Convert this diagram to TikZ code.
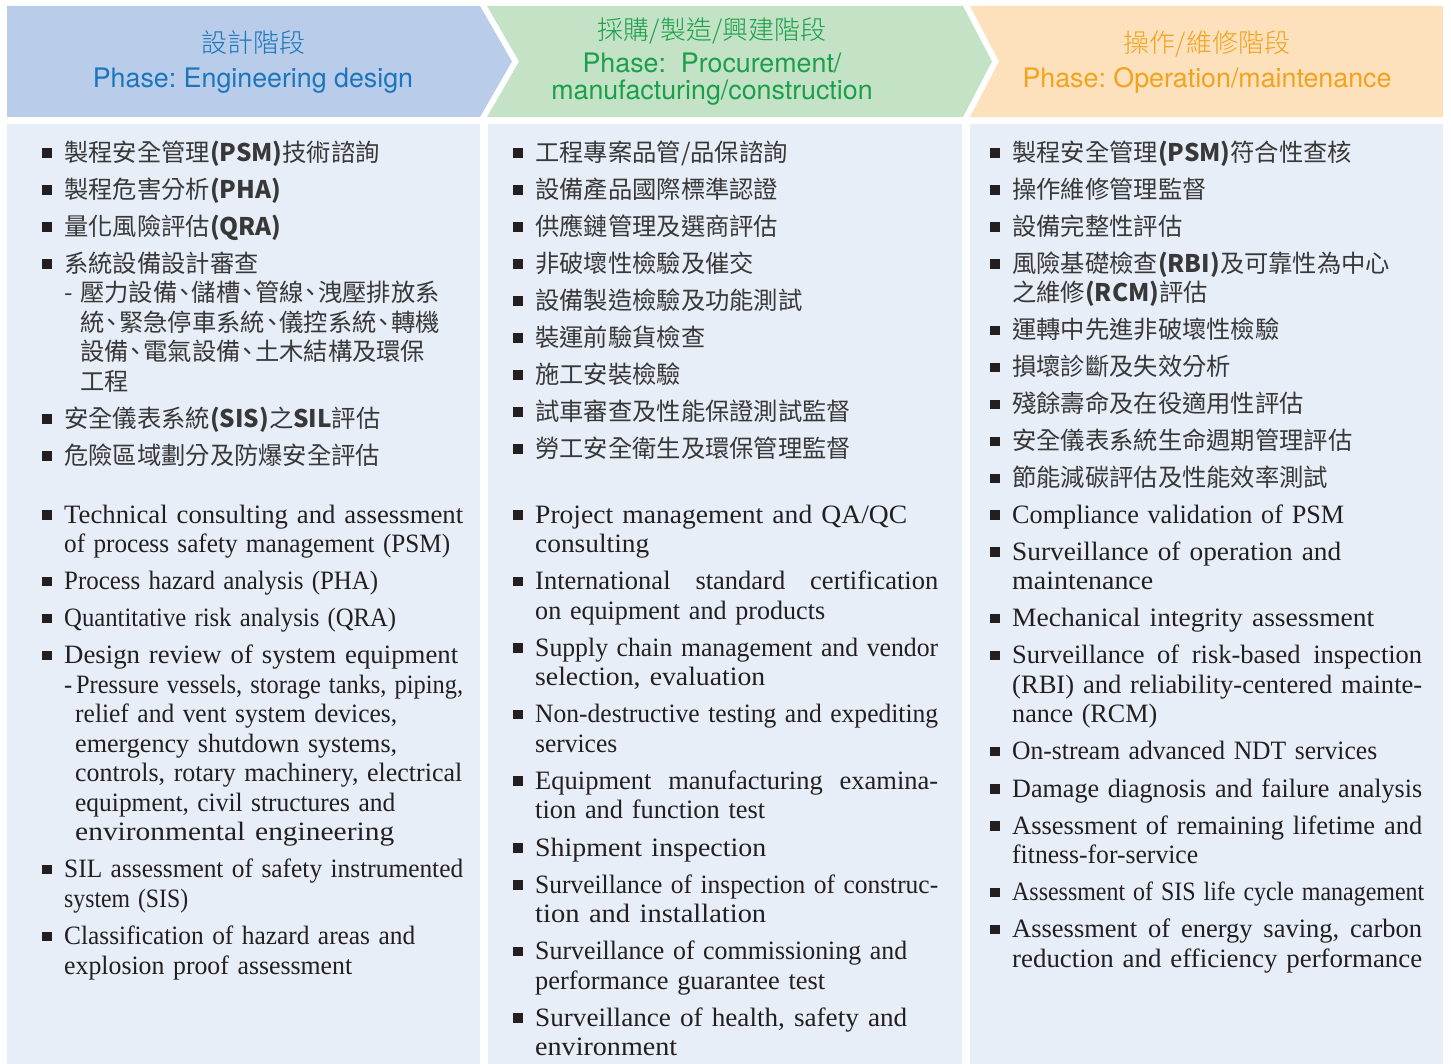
\documentclass[tikz,border=0pt]{standalone}
\usepackage{fontspec}
\newfontfamily\cjk{Noto Sans CJK TC}
\IfFontExistsTF{Noto Sans CJK TC Light}
  {\newfontfamily\cjklight{Noto Sans CJK TC Light}}
  {\newfontfamily\cjklight{Noto Sans CJK TC}}
\newfontfamily\hdsans{TeX Gyre Heros}
\newfontfamily\enserif{Liberation Serif}
\usepackage{graphicx}
\usepackage{xcolor}
\usetikzlibrary{positioning}
\frenchspacing
\definecolor{designfill}{HTML}{B9CDEA}
\definecolor{designtext}{HTML}{1B75BC}
\definecolor{buildfill}{HTML}{C4E3C6}
\definecolor{buildtext}{HTML}{1A9F4A}
\definecolor{operfill}{HTML}{FCE1BC}
\definecolor{opertext}{HTML}{F4A21C}
\definecolor{panelfill}{HTML}{E8EEF8}
\definecolor{bodytext}{HTML}{231F20}
\definecolor{cjktext}{HTML}{383838}

% list lines: bullet hang; justified lines stretch the spaces,
% ragged lines are scaled to the measured width
\newlength\bhang \setlength\bhang{22pt}
\newlength\fitw
\newsavebox\linebox
\newcommand\justto[2]{\setlength\fitw{#1}\sbox\linebox{#2}%
  \ifdim\wd\linebox>\fitw\resizebox{\fitw}{\height}{\usebox\linebox}%
  \else\hbox to\fitw{\spaceskip=\fontdimen2\font plus 1fil\relax#2}\fi}
\newcommand\scaleto[2]{\setlength\fitw{#1}\resizebox{\fitw}{\height}{#2}}
\newcommand\bul{\llap{{\color{bodytext}\rule[3.5pt]{9.5pt}{9.5pt}}\hspace{12.5pt}}}
\newcommand\jln[3][0pt]{\noindent\hspace*{\dimexpr\bhang+#1\relax}\justto{#2pt}{#3}\par}
\newcommand\bjln[2]{\noindent\hspace*{\bhang}\bul\justto{#1pt}{#2}\par}
\newcommand\rln[3][0pt]{\noindent\hspace*{\dimexpr\bhang+#1\relax}\scaleto{#2pt}{#3}\par}
\newcommand\brln[2]{\noindent\hspace*{\bhang}\bul\scaleto{#1pt}{#2}\par}
\newcommand\rl[2][0pt]{\noindent\hspace*{\dimexpr\bhang+#1\relax}\hbox{#2}\par}
\newcommand\brl[1]{\noindent\hspace*{\bhang}\bul\hbox{#1}\par}
\newcommand\igap{\vskip 7.6pt}
\newcommand\dun{\makebox[0.6em][c]{、}}

\tikzset{
  hdcjk/.style={inner sep=0, anchor=base, font=\cjklight\fontsize{26}{30}\selectfont},
  hdeng/.style={inner sep=0, anchor=base, font=\hdsans\fontsize{26.8}{30}\selectfont},
  enlist/.style={inner sep=0, anchor=base west, text=bodytext, font=\enserif\fontsize{26.5}{29.5}\selectfont},
  zhlist/.style={inner sep=0, anchor=base west, text=cjktext, font=\cjk\fontsize{24.3}{29.4}\selectfont},
}

\begin{document}
\begin{tikzpicture}[x=1pt, y=-1pt]
  \useasboundingbox (0,0) rectangle (1451,1064);

  % Draw the phase headers
  \fill[designfill] (7,6) -- (480,6) -- (512,61.5) -- (480,117) -- (7,117) -- cycle;
  \fill[buildfill] (487,6) -- (963,6) -- (992,61.5) -- (963,117) -- (487,117) -- (519,61.5) -- cycle;
  \fill[operfill] (970,6) -- (1443,6) -- (1443,117) -- (970,117) -- (999,61.5) -- cycle;

  % Draw the panels
  \fill[panelfill] (7,124.5) rectangle (480,1064);
  \fill[panelfill] (488,124.5) rectangle (962,1064);
  \fill[panelfill] (970,124.5) rectangle (1443,1064);

  % Header texts
  \node[hdcjk, text=designtext] (hdA) at (253,53) {設計階段};
  \node[hdeng, text=designtext] (phA) at (253,87.3) {Phase: Engineering design};
  \node[hdcjk, text=buildtext] (hdB) at (712,40) {採購/製造/興建階段};
  \node[hdeng, text=buildtext] (phB) at (712,72.7) {Phase:\ \ Procurement/};
  \node[hdeng, text=buildtext] (phBb) at (712,100) {manufacturing/construction};
  \node[hdcjk, text=opertext] (hdC) at (1207,53) {操作/維修階段};
  \node[hdeng, text=opertext] (phC) at (1207,87.3) {Phase: Operation/maintenance};

  % Chinese service lists
  \node[zhlist, text width=421pt] (zhA) at (42,161.5) {%
    \brl{製程安全管理\textbf{(PSM)}技術諮詢}
    \igap\brl{製程危害分析\textbf{(PHA)}}
    \igap\brl{量化風險評估\textbf{(QRA)}}
    \igap\brl{系統設備設計審查}
    \rl{\makebox[16pt][l]{-}壓力設備\dun 儲槽\dun 管線\dun 洩壓排放系}
    \rl[16pt]{統\dun 緊急停車系統\dun 儀控系統\dun 轉機}
    \rl[16pt]{設備\dun 電氣設備\dun 土木結構及環保}
    \rl[16pt]{工程}
    \igap\brl{安全儀表系統\textbf{(SIS)}之\textbf{SIL}評估}
    \igap\brl{危險區域劃分及防爆安全評估}};
  \node[zhlist, text width=425pt] (zhB) at (513,161.5) {%
    \brl{工程專案品管/品保諮詢}
    \igap\brl{設備產品國際標準認證}
    \igap\brl{供應鏈管理及選商評估}
    \igap\brl{非破壞性檢驗及催交}
    \igap\brl{設備製造檢驗及功能測試}
    \igap\brl{裝運前驗貨檢查}
    \igap\brl{施工安裝檢驗}
    \igap\brl{試車審查及性能保證測試監督}
    \igap\brl{勞工安全衛生及環保管理監督}};
  \node[zhlist, text width=432pt] (zhC) at (990,161.5) {%
    \brl{製程安全管理\textbf{(PSM)}符合性查核}
    \igap\brl{操作維修管理監督}
    \igap\brl{設備完整性評估}
    \igap\brl{風險基礎檢查\textbf{(RBI)}及可靠性為中心}
    \rl{之維修\textbf{(RCM)}評估}
    \igap\brl{運轉中先進非破壞性檢驗}
    \igap\brl{損壞診斷及失效分析}
    \igap\brl{殘餘壽命及在役適用性評估}
    \igap\brl{安全儀表系統生命週期管理評估}
    \igap\brl{節能減碳評估及性能效率測試}};

  % English service lists
  \node[enlist, text width=421pt] (enA) at (42,523) {%
    \brln{399}{Technical consulting and assessment}
    \rln{386}{of process safety management (PSM)}
    \igap\brln{314}{Process hazard analysis (PHA)}
    \igap\brln{332}{Quantitative risk analysis (QRA)}
    \igap\brln{394}{Design review of system equipment}
    \jln{399}{\makebox[13pt][l]{-}Pressure vessels, storage tanks, piping,}
    \rln[11pt]{322}{relief and vent system devices,}
    \rln[11pt]{322}{emergency shutdown systems,}
    \rln[11pt]{387}{controls, rotary machinery, electrical}
    \rln[11pt]{320}{equipment, civil structures and}
    \rln[11pt]{319}{environmental\ engineering}
    \igap\brln{399}{SIL assessment of safety instrumented}
    \rln{124}{system (SIS)}
    \igap\brln{351}{Classification of hazard areas and}
    \rln{288}{explosion proof assessment}};
  \node[enlist, text width=425pt] (enB) at (513,523) {%
    \brln{372}{Project management and QA/QC}
    \rln{114}{consulting}
    \igap\bjln{403}{International standard certification}
    \rln{290}{on equipment and products}
    \igap\brln{403}{Supply chain management and vendor}
    \rln{230}{selection, evaluation}
    \igap\brln{403}{Non-destructive testing and expediting}
    \rln{82}{services}
    \igap\bjln{403}{Equipment manufacturing examina-}
    \rln{230}{tion and function test}
    \igap\brln{231}{Shipment inspection}
    \igap\brln{403}{Surveillance of inspection of construc-}
    \rln{231}{tion and installation}
    \igap\brln{372}{Surveillance of commissioning and}
    \rln{290}{performance guarantee test}
    \igap\brln{372}{Surveillance of health, safety and}
    \rln{142}{environment}};
  \node[enlist, text width=432pt] (enC) at (990,523) {%
    \brln{332}{Compliance validation of PSM}
    \igap\brln{329}{Surveillance of operation and}
    \rln{141}{maintenance}
    \igap\brln{362}{Mechanical integrity assessment}
    \igap\bjln{410}{Surveillance of risk-based inspection}
    \rln{410}{(RBI) and reliability-centered mainte-}
    \rln{145}{nance (RCM)}
    \igap\brln{365}{On-stream advanced NDT services}
    \igap\brln{410}{Damage diagnosis and failure analysis}
    \igap\bjln{410}{Assessment of remaining lifetime and}
    \rln{186}{fitness-for-service}
    \igap\brln{412}{Assessment of SIS life cycle management}
    \igap\bjln{410}{Assessment of energy saving, carbon}
    \rln{410}{reduction and efficiency performance}};
\end{tikzpicture}
\end{document}
